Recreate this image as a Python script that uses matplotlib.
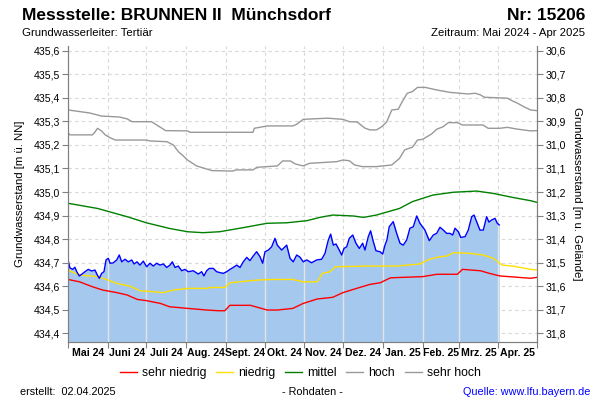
import numpy as np
import pandas as pd
import matplotlib
matplotlib.use('Agg')
import matplotlib.pyplot as plt
from matplotlib.lines import Line2D
from matplotlib.ticker import FuncFormatter, FixedLocator
import matplotlib.dates as mdates

plt.rcParams['font.family'] = ['Liberation Sans', 'DejaVu Sans']

start = pd.Timestamp('2024-05-01')

# Messwerte: Tage ab 01.05.2024 und Grundwasserstand [m ü. NN]
tage_mess = [0, 1.5, 3.7, 5.4, 6.8, 8.8, 10.9, 13.2, 15.8, 18.4,
             21, 22.8, 24.4, 26.2, 28, 29.6, 31.4, 32.7, 35, 37.9,
             39.9, 41.8, 44.4, 46.9, 49.6, 51.4, 53.7, 56, 58.6, 61.2,
             63.8, 66.4, 69, 71.6, 74.2, 76.8, 79.4, 81.2, 83.3, 85.8,
             88.5, 91, 93.6, 97.5, 101.4, 104, 105.8, 107.9, 110, 113.1,
             115.7, 118.3, 120.9, 123.5, 126.1, 128.6, 131.3, 133.9, 136.4, 139.1,
             141.6, 144.2, 146.8, 149.4, 151.5, 153.3, 155.9, 158.5, 161.1, 162.9,
             166.3, 170.2, 172.8, 175.3, 178, 180.5, 183.1, 185.8, 189.6, 193.5,
             197.4, 200, 202.6, 204.4, 206.5, 208.6, 211.1, 213, 214.8, 216.9,
             218.9, 221.6, 224.1, 226.7, 229.3, 231.1, 233.7, 235.5, 237.6, 239.7,
             242.8, 244.9, 246.7, 248.2, 250, 253.1, 255.8, 258.4, 260.9, 263.6,
             266.1, 268.7, 271.4, 273.9, 277.8, 281.2, 284.3, 286.9, 289.5, 292.1,
             294.7, 297.3, 299.4, 301.2, 303.8, 305.6, 309, 311.5, 314.2, 316,
             318, 320.6, 323.2, 325.8, 327.6, 329.7, 332.3, 334.1, 335.6]
wert_mess = [434.711, 434.677, 434.671, 434.68, 434.661, 434.643, 434.651, 434.661, 434.671, 434.664,
             434.668, 434.647, 434.633, 434.654, 434.661, 434.711, 434.718, 434.697, 434.698, 434.711,
             434.732, 434.703, 434.714, 434.703, 434.711, 434.694, 434.703, 434.689, 434.706, 434.682,
             434.697, 434.685, 434.697, 434.689, 434.694, 434.679, 434.689, 434.703, 434.679, 434.685,
             434.665, 434.671, 434.661, 434.665, 434.651, 434.661, 434.643, 434.665, 434.675, 434.675,
             434.661, 434.657, 434.654, 434.661, 434.671, 434.679, 434.689, 434.679, 434.703, 434.722,
             434.708, 434.728, 434.746, 434.725, 434.697, 434.746, 434.753, 434.767, 434.803, 434.774,
             434.753, 434.774, 434.718, 434.703, 434.732, 434.723, 434.703, 434.711, 434.699, 434.711,
             434.714, 434.739, 434.796, 434.821, 434.774, 434.779, 434.753, 434.732, 434.76, 434.767,
             434.803, 434.817, 434.782, 434.76, 434.782, 434.753, 434.81, 434.835, 434.789, 434.75,
             434.746, 434.736, 434.774, 434.796, 434.852, 434.874, 434.824, 434.782, 434.774, 434.796,
             434.846, 434.852, 434.898, 434.867, 434.838, 434.793, 434.817, 434.824, 434.85, 434.838,
             434.824, 434.824, 434.817, 434.846, 434.831, 434.807, 434.81, 434.838, 434.895, 434.902,
             434.874, 434.838, 434.838, 434.895, 434.872, 434.881, 434.888, 434.867, 434.86]

# Vergleichslinien
tage_sh = [0, 17, 26, 40, 46, 50, 65, 69, 74, 76, 93, 95, 144, 145, 152, 155, 175, 178, 183, 202,
           214, 219, 225, 231, 235, 240, 244, 248, 252, 257, 260, 264, 268, 272, 278, 287, 297, 311,
           317, 321, 324, 342, 346, 349, 355, 360, 365]
wert_sh = [435.349, 435.336, 435.323, 435.319, 435.311, 435.299, 435.299, 435.285, 435.268, 435.261,
           435.26, 435.254, 435.254, 435.271, 435.278, 435.281, 435.281, 435.288, 435.309, 435.314,
           435.309, 435.299, 435.298, 435.272, 435.264, 435.264, 435.277, 435.298, 435.349, 435.352,
           435.383, 435.42, 435.427, 435.445, 435.445, 435.434, 435.424, 435.417, 435.42, 435.413,
           435.403, 435.399, 435.387, 435.38, 435.362, 435.349, 435.346]

tage_h = [0, 1.5, 19, 21, 23, 26, 29, 33, 37, 61, 64, 77, 82, 86, 89, 93, 100, 112, 128, 131,
          144, 147, 163, 167, 173, 177, 183, 188, 209, 214, 219, 223, 229, 240, 252, 258, 262, 266,
          268, 272, 276, 283, 287, 292, 296, 303, 307, 323, 327, 336, 342, 349, 360, 365]
wert_h = [435.252, 435.243, 435.243, 435.255, 435.271, 435.26, 435.243, 435.23, 435.221, 435.221,
          435.217, 435.214, 435.2, 435.171, 435.157, 435.136, 435.111, 435.091, 435.089, 435.094,
          435.094, 435.105, 435.111, 435.132, 435.132, 435.119, 435.111, 435.122, 435.129, 435.136,
          435.133, 435.115, 435.108, 435.108, 435.115, 435.143, 435.179, 435.187, 435.19, 435.221,
          435.224, 435.247, 435.267, 435.278, 435.295, 435.295, 435.285, 435.285, 435.271, 435.271,
          435.275, 435.268, 435.26, 435.261]

tage_m = [0, 23, 46, 61, 79, 93, 105, 118, 136, 155, 170, 186, 196, 206, 222, 230, 240, 258, 268,
          284, 300, 318, 331, 346, 360, 365]
wert_m = [434.952, 434.93, 434.895, 434.869, 434.845, 434.831, 434.827, 434.831, 434.848, 434.867,
          434.869, 434.878, 434.892, 434.902, 434.898, 434.892, 434.902, 434.93, 434.959, 434.987,
          434.999, 435.004, 434.994, 434.977, 434.963, 434.956]

tage_n = [0, 9, 23, 30, 38, 48, 56, 66, 74, 82, 93, 108, 111, 122, 126, 139, 149, 160, 175, 183,
          194, 198, 204, 208, 233, 256, 264, 274, 280, 287, 295, 300, 313, 323, 331, 338, 346, 360, 365]
wert_n = [434.668, 434.647, 434.64, 434.628, 434.611, 434.6, 434.58, 434.576, 434.572, 434.583,
          434.59, 434.59, 434.594, 434.594, 434.614, 434.621, 434.626, 434.628, 434.628, 434.618,
          434.618, 434.654, 434.661, 434.682, 434.685, 434.685, 434.689, 434.694, 434.711, 434.722,
          434.728, 434.742, 434.739, 434.732, 434.718, 434.689, 434.685, 434.671, 434.668]

tage_sn = [0, 9, 19, 27, 38, 46, 54, 61, 72, 79, 93, 108, 117, 122, 126, 142, 155, 163, 175, 183,
           194, 206, 214, 227, 235, 243, 251, 276, 287, 303, 307, 321, 328, 336, 360, 365]
wert_sn = [434.628, 434.618, 434.597, 434.583, 434.572, 434.562, 434.543, 434.538, 434.526, 434.512,
           434.505, 434.498, 434.495, 434.495, 434.518, 434.518, 434.498, 434.498, 434.505, 434.526,
           434.545, 434.552, 434.572, 434.594, 434.607, 434.614, 434.635, 434.64, 434.65, 434.65,
           434.671, 434.665, 434.654, 434.643, 434.633, 434.637]

monate = ['Mai 24', 'Juni 24', 'Juli 24', 'Aug. 24', 'Sept. 24', 'Okt. 24',
          'Nov. 24', 'Dez. 24', 'Jan. 25', 'Feb. 25', 'Mrz. 25', 'Apr. 25']
gelaende = 466.2  # Geländehöhe [m ü. NN]


def datum(tage):
    return start + pd.to_timedelta(np.array(tage, dtype=float), unit='D')


fig = plt.figure(figsize=(6, 4), dpi=100)
ax = fig.add_axes([68 / 600, 1 - 342 / 400, 469 / 600, 296 / 400])

ymin, ymax = 434.362, 435.621
x_mess = datum(tage_mess)

# Füllung und Messlinie
ax.fill_between(x_mess, ymin, wert_mess, color='#A5C8EF', lw=0, zorder=2)

grenzen = pd.date_range('2024-05-01', '2025-05-01', freq='MS')
mitten = [g + (grenzen[i + 1] - g) / 2 for i, g in enumerate(grenzen[:-1])]

# Monatslinien innerhalb der Füllung
xm_num = mdates.date2num(x_mess)
for g in grenzen[1:-1]:
    gn = mdates.date2num(g)
    if gn <= xm_num[-1]:
        top = np.interp(gn, xm_num, wert_mess)
        ax.plot([g, g], [ymin, top], color='#E4E4E4', lw=1.0, zorder=3)

ax.plot(datum(tage_sh), wert_sh, color='#999999', lw=1.0, zorder=4)
ax.plot(datum(tage_h), wert_h, color='#999999', lw=1.0, zorder=4)
ax.plot(datum(tage_m), wert_m, color='#008000', lw=1.0, zorder=4)
ax.plot(datum(tage_n), wert_n, color='#FFE000', lw=1.0, zorder=4)
ax.plot(datum(tage_sn), wert_sn, color='#FF0000', lw=1.0, zorder=4)
ax.plot(x_mess, wert_mess, color='#0000FF', lw=1.0, zorder=5)

ax.set_xlim(grenzen[0], grenzen[-1])
ax.set_ylim(ymin, ymax)

yt = np.round(np.arange(434.4, 435.65, 0.1), 1)
ax.yaxis.set_major_locator(FixedLocator(yt))
komma = FuncFormatter(lambda v, p: ('%.1f' % v).replace('.', ','))
ax.yaxis.set_major_formatter(komma)

ax.xaxis.set_major_locator(FixedLocator(mdates.date2num(grenzen)))
ax.xaxis.set_major_formatter(FuncFormatter(lambda v, p: ''))
ax.xaxis.set_minor_locator(FixedLocator(mdates.date2num(mitten)))
ax.xaxis.set_minor_formatter(FuncFormatter(lambda v, p: monate[p] if p is not None and p < 12 else ''))
ax.set_xticks(mdates.date2num(mitten), labels=monate, minor=True)
ax.tick_params(axis='x', which='minor', length=0, labelsize=7.6, pad=4)
ax.tick_params(axis='x', which='major', length=4, color='#808080')
ax.tick_params(axis='y', length=4, color='#808080', labelsize=7.6, pad=2)
for lab in ax.get_xticklabels(minor=True):
    lab.set_fontweight('bold')

ax.grid(True, which='major', color='#D8D8D8', linestyle=(0, (3, 3)), lw=0.8, zorder=0)
ax.set_axisbelow(True)
for s in ['left', 'right', 'bottom']:
    ax.spines[s].set_color('#808080')
ax.spines['top'].set_visible(False)

ax.set_ylabel('Grundwasserstand [m ü. NN]', fontsize=8.2, labelpad=6)

# rechte Achse: unter Gelände
ax2 = ax.twinx()
ax2.set_ylim(gelaende - ymin, gelaende - ymax)
ax2.yaxis.set_major_locator(FixedLocator(np.round(np.arange(30.6, 31.85, 0.1), 1)))
ax2.yaxis.set_major_formatter(komma)
ax2.tick_params(axis='y', length=4, color='#808080', labelsize=7.6, pad=2)
ax2.spines['top'].set_visible(False)
for s in ['left', 'right', 'bottom']:
    ax2.spines[s].set_color('#808080')
ax2.set_ylabel('Grundwasserstand [m u. Gelände]', fontsize=8.2, rotation=-90, labelpad=12)

# Titel und Texte
fig.text(22 / 600, 1 - 15 / 400, 'Messstelle: BRUNNEN II  Münchsdorf', fontsize=12.5,
         fontweight='bold', va='center', ha='left')
fig.text(585 / 600, 1 - 15 / 400, 'Nr: 15206', fontsize=12.5, fontweight='bold',
         va='center', ha='right')
fig.text(22 / 600, 1 - 33 / 400, 'Grundwasserleiter: Tertiär', fontsize=8.2, va='center', ha='left')
fig.text(585 / 600, 1 - 33 / 400, 'Zeitraum: Mai 2024 - Apr 2025', fontsize=8.2,
         va='center', ha='right')

fig.text(20 / 600, 1 - 392 / 400, 'erstellt:  02.04.2025', fontsize=7.8, va='center', ha='left')
fig.text(312 / 600, 1 - 392 / 400, '- Rohdaten -', fontsize=7.8, va='center', ha='center')
fig.text(590 / 600, 1 - 392 / 400, 'Quelle: www.lfu.bayern.de', fontsize=7.8, va='center',
         ha='right', color='#0000FF')

handles = [Line2D([], [], color='#FF0000', lw=1.0),
           Line2D([], [], color='#FFE000', lw=1.0),
           Line2D([], [], color='#008000', lw=1.0),
           Line2D([], [], color='#999999', lw=1.0),
           Line2D([], [], color='#999999', lw=1.0)]
fig.legend(handles, ['sehr niedrig', 'niedrig', 'mittel', 'hoch', 'sehr hoch'],
           loc='center', bbox_to_anchor=(300 / 600, 1 - 373 / 400), ncol=5, frameon=False,
           fontsize=8.8, handlelength=1.4, handletextpad=0.4, columnspacing=0.8)

fig.savefig('out.png', dpi=100)
